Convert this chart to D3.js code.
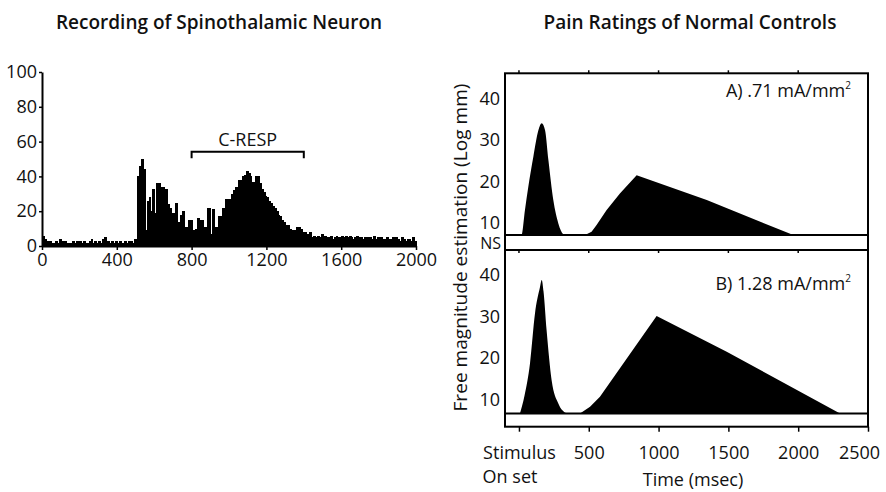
<!DOCTYPE html>
<html><head><meta charset="utf-8">
<script src="https://cdn.jsdelivr.net/npm/d3@7"></script>
<style>
html,body{margin:0;padding:0;background:#fff;}
svg text{font-family:"Open Sans","Noto Sans",sans-serif;fill:#111;}
</style></head>
<body>
<svg id="c" width="886" height="492"></svg>
<script>
// ---------- DATA ----------
const titles = ["Recording of Spinothalamic Neuron", "Pain Ratings of Normal Controls"];
// Spike histogram, 10 ms bins from 0 to 2000 ms (spikes/bin)
const histBinWidth = 10;
const histCounts = [
  6,4,3,2,3,2,2,3,2,4,   3,2,3,2,2,2,3,2,3,2,
  3,2,3,2,2,3,4,2,3,2,   3,2,4,5,2,3,2,3,2,3,
  2,3,2,2,3,2,3,3,2,4,   4,40,46,50,44,9,26,28,20,33,
  19,36,36,34,34,32,33,24,22,19, 19,25,14,14,18,20,11,11,15,15,
  9,9,10,16,15,15,11,11,22,22,  7,21,11,11,17,17,22,22,27,27,
  27,30,32,34,34,38,38,40,41,43, 42,40,37,37,40,40,36,33,31,29,
  28,26,25,23,22,20,18,17,15,14, 12,12,10,9,9,9,11,11,10,8,
  8,7,6,8,5,6,5,6,5,7,   5,6,5,5,6,4,5,6,5,5,
  6,5,6,5,6,5,4,5,6,5,   5,4,5,4,5,5,4,6,4,5,
  4,5,4,4,5,4,4,5,4,5,   4,3,5,4,3,4,4,3,5,3
];
const leftYTicks = [0,20,40,60,80,100];
const leftXTicks = [0,400,800,1200,1600,2000];
const cRespRange = [800,1400];
const cRespLabel = "C-RESP";

const rightXTicks = [0,500,1000,1500,2000,2500];
const rightYTicks = [10,20,30,40];
const panelLabels = ["A) .71 mA/mm", "B) 1.28 mA/mm"];
const nsLevels = [7.1, 6.7];
// Panel A
const aEarlyT = [5,19,43,67,103,139,163,187,211,246,282,318,335];
const aEarlyV = [7,7.1,13.1,18.7,25.9,32.3,34,32.3,25.1,15.5,9.9,7.3,7.1];
const aLateT  = [473,520,556,628,723,843,1345,1965];
const aLateV  = [7.1,7.9,9.5,13.1,17.1,21.5,15.5,7.1];
// Panel B
const bEarlyT = [7,40,79,115,150,163,176,198,234,282,341];
const bEarlyV = [6.7,11,18.7,30.8,37,38.8,36,26.7,14.7,9.1,6.7];
const bLateT  = [437,509,580,986,1488,2300];
const bLateV  = [6.7,8.3,10.7,30.1,21.5,6.7];

// ---------- DRAW ----------
const FONT = "Open Sans, Noto Sans, sans-serif";
const svg = d3.select("#c");

// Titles
svg.append("text").attr("x",219).attr("y",29).attr("text-anchor","middle")
  .attr("font-size",19).attr("font-weight",600).text(titles[0]);
svg.append("text").attr("x",690).attr("y",29).attr("text-anchor","middle")
  .attr("font-size",19).attr("font-weight",600).text(titles[1]);

// ----- Left chart -----
const xL = d3.scaleLinear().domain([0,2000]).range([42,416]);
const yL = d3.scaleLinear().domain([0,100]).range([246,72]);
const gL = svg.append("g");
const bins = histCounts.map((c,i)=>({t:i*histBinWidth, c}));
gL.selectAll("rect.bar").data(bins).enter().append("rect").attr("class","bar")
  .attr("x", d=>xL(d.t)).attr("width", d=>xL(d.t+histBinWidth)-xL(d.t)+1)
  .attr("y", d=>yL(d.c)).attr("height", d=>yL(0)-yL(d.c)).attr("fill","#000")
  .attr("shape-rendering","crispEdges");

const axL = gL.append("g").attr("transform",`translate(${xL(0)},0)`)
  .call(d3.axisLeft(yL).tickValues(leftYTicks).tickSize(3).tickPadding(2).tickSizeOuter(0));
const axB = gL.append("g").attr("transform",`translate(0,${yL(0)})`)
  .call(d3.axisBottom(xL).tickValues(leftXTicks).tickFormat(d3.format("d")).tickSize(4).tickPadding(3).tickSizeOuter(0));
[axL,axB].forEach(a=>{
  a.selectAll("path.domain").attr("stroke","#000").attr("stroke-width",2);
  a.selectAll("line").attr("stroke","#000").attr("stroke-width",1.5);
  a.selectAll("text").attr("font-size",18).attr("fill","#111").attr("font-family",FONT);
});

// C-RESP bracket
gL.append("path")
  .attr("d",`M${xL(cRespRange[0])},${yL(50.5)}V${yL(54.2)}H${xL(cRespRange[1])}V${yL(50.5)}`)
  .attr("fill","none").attr("stroke","#000").attr("stroke-width",2);
gL.append("text").attr("x",(xL(cRespRange[0])+xL(cRespRange[1]))/2).attr("y",yL(54.2)-6)
  .attr("text-anchor","middle").attr("font-size",18).text(cRespLabel);

// ----- Right chart -----
const xR = d3.scaleLinear().domain([-100,2500]).range([505,868]);
const panels = [
  {top:73.3, bot:250, ns:nsLevels[0], early:[aEarlyT,aEarlyV], late:[aLateT,aLateV], label:panelLabels[0], labY:97},
  {top:250, bot:426.7, ns:nsLevels[1], early:[bEarlyT,bEarlyV], late:[bLateT,bLateV], label:panelLabels[1], labY:290}
];
const gR = svg.append("g");
panels.forEach((p,pi)=>{
  const y = d3.scaleLinear().domain([3.5,46]).range([p.bot,p.top]);
  const mk = (T,V,curve)=>d3.area().curve(curve)
      .x(d=>xR(d[0])).y0(y(p.ns)).y1(d=>y(d[1]))(T.map((t,i)=>[t,V[i]]));
  gR.append("path").attr("d",mk(p.early[0],p.early[1],d3.curveMonotoneX)).attr("fill","#000");
  gR.append("path").attr("d",mk(p.late[0],p.late[1],d3.curveLinear)).attr("fill","#000");
  // NS baseline
  gR.append("line").attr("x1",xR(-100)).attr("x2",xR(2500)).attr("y1",y(p.ns)).attr("y2",y(p.ns))
    .attr("stroke","#000").attr("stroke-width",2);
  // y axis labels
  const ay = gR.append("g").attr("transform",`translate(${xR(-100)},0)`)
    .call(d3.axisLeft(y).tickValues(rightYTicks).tickSize(0).tickPadding(5));
  ay.select("path.domain").remove();
  ay.selectAll("text").attr("font-size",18).attr("fill","#111").attr("font-family",FONT);
  // frame
  gR.append("rect").attr("x",xR(-100)).attr("y",p.top).attr("width",xR(2500)-xR(-100)).attr("height",p.bot-p.top)
    .attr("fill","none").attr("stroke","#000").attr("stroke-width",2);
  // small ticks on top edge
  gR.selectAll(null).data(rightXTicks.slice(0,5)).enter().append("line")
    .attr("x1",d=>xR(d)).attr("x2",d=>xR(d)).attr("y1",p.top).attr("y2",pi===0?p.top-3:p.top+3)
    .attr("stroke","#000").attr("stroke-width",1.5);
  // panel label
  const t = gR.append("text").attr("x",851).attr("y",p.labY).attr("text-anchor","end").attr("font-size",18);
  t.append("tspan").text(p.label);
  t.append("tspan").attr("font-size",10).attr("dy",-8).text("2");
  if(pi===0){
    gR.append("text").attr("x",501).attr("y",248.5)
      .attr("text-anchor","end").attr("font-size",16).text("NS");
  }
});
// bottom x axis
const axR = gR.append("g").attr("transform","translate(0,426.7)")
  .call(d3.axisBottom(xR).tickValues(rightXTicks).tickSize(5).tickPadding(15)
    .tickFormat(d=>d===0?"Stimulus":d).tickSizeOuter(0));
axR.select("path.domain").remove();
axR.selectAll("line").attr("stroke","#000").attr("stroke-width",1.5);
axR.selectAll("text").attr("font-size",18).attr("fill","#111").attr("font-family",FONT);
axR.selectAll("g.tick").filter(d=>d===2500).select("text").attr("dx",-9);
const stimText = axR.selectAll("g.tick").filter(d=>d===0).select("text");
const sw = stimText.node().getComputedTextLength();
gR.append("text").attr("x",xR(0)-sw/2).attr("y",483).attr("font-size",18).text("On set");
gR.append("text").attr("x",693).attr("y",486).attr("text-anchor","middle")
  .attr("font-size",18).text("Time (msec)");
// y title
gR.append("text").attr("transform","translate(467,247.5) rotate(-90)").attr("text-anchor","middle")
  .attr("font-size",18).attr("textLength",328).attr("lengthAdjust","spacingAndGlyphs")
  .text("Free magnitude estimation (Log mm)");
</script>
</body></html>
